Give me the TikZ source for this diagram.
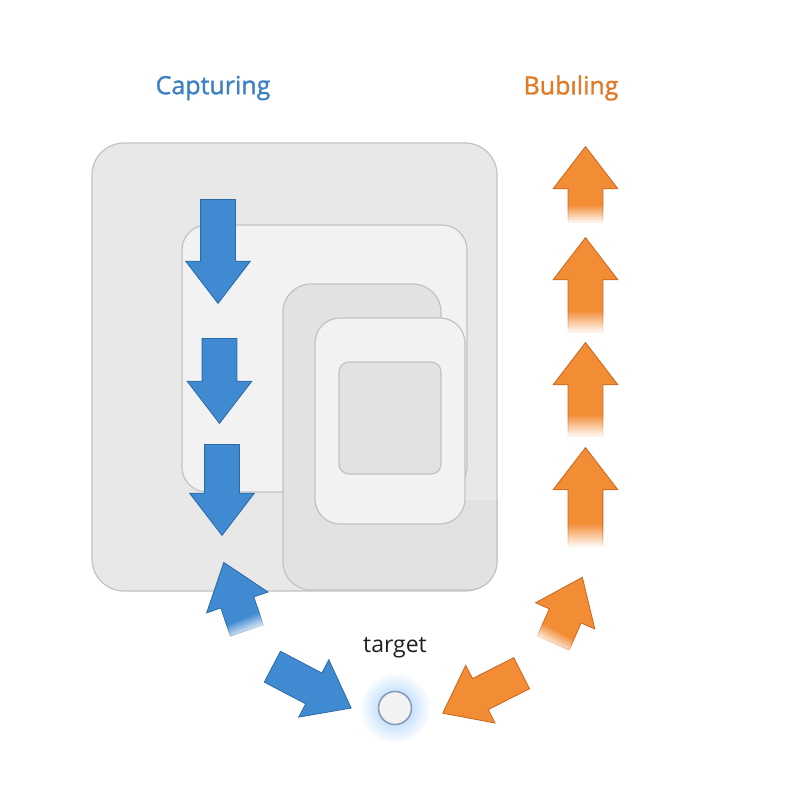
\documentclass[tikz,border=0pt]{standalone}
\usepackage{fontspec}
\setmainfont{Open Sans}
\newfontfamily\headfont[FakeBold=1.2]{Open Sans}
\usetikzlibrary{shapes.arrows,fadings}

\definecolor{capblue}{HTML}{3F8AD0}
\definecolor{capline}{HTML}{2D6AA8}
\definecolor{captext}{HTML}{3B7FC4}
\definecolor{bubor}{HTML}{F28C35}
\definecolor{bubline}{HTML}{C8651E}
\definecolor{bubtext}{HTML}{E07A26}
\definecolor{boxline}{HTML}{C2C2C2}
\definecolor{grayA}{HTML}{E8E8E8}
\definecolor{grayB}{HTML}{F2F2F2}
\definecolor{grayC}{HTML}{E2E2E2}
\definecolor{glow}{HTML}{9CCBFA}
\definecolor{ringline}{HTML}{8499B8}

\pgfdeclarehorizontalshading{tailmask}{100bp}{color(0bp)=(black); color(25bp)=(black); color(37bp)=(white); color(100bp)=(white)}
\pgfdeclarefading{tailfade}{\pgfuseshading{tailmask}}

\begin{document}
\begin{tikzpicture}
[x=1pt,y=-1pt,
box/.style={draw=boxline,line width=1.2pt,rounded corners=#1},
blk/.style={single arrow,inner xsep=0pt,inner ysep=17pt,minimum width=0pt,
  single arrow head extend=15pt,single arrow tip angle=75,line width=.8pt,anchor=tail},
capdown/.style={blk,fill=capblue,draw=capline},
bubup/.style={blk,fill=bubor,draw=bubline},
faded/.style={path fading=tailfade,fading angle=#1}]
\useasboundingbox (0,0) rectangle (800,800);

\node[box=32pt,fill=grayA,minimum width=405pt,minimum height=448pt] (window) at (294.5,367) {};
\node[box=25pt,fill=grayB,minimum width=285pt,minimum height=267pt] (document) at (324.5,358.5) {};
\fill[grayC,rounded corners=28pt] (283,590) -- (283,284) -- (441,284) -- (441,500) [sharp corners] -- (497,500) [rounded corners=28pt] -- (497,590) -- cycle;
\draw[boxline,line width=1.2pt,rounded corners=28pt] (497,500) -- (497,590) -- (283,590) -- (283,284) -- (441,284) -- (441,500);
\node[box=25pt,fill=grayB,minimum width=150pt,minimum height=206pt] (div) at (390,421) {};
\node[box=10pt,fill=grayC,minimum width=102pt,minimum height=112pt] (span) at (390,418) {};

\node[text=captext,font=\headfont\fontsize{25}{30}\selectfont] (capturing) at (213,88) {Capturing};
\node[text=bubtext,font=\headfont\fontsize{25}{30}\selectfont] (bubbling) at (571,88) {Bubıling};
\node[text=black!88,font=\fontsize{23}{27}\selectfont] (label) at (395,648) {target};

\node[circle,minimum size=72pt,inner color=glow,outer color=white] (halo) at (395,708) {};
\node[circle,minimum size=33pt,fill=grayB,draw=ringline,line width=1.5pt] (target) at (395,708) {};

% capturing phase
\foreach \x/\y/\len [count=\i] in {218/199/104,219.5/338/85,222/444/91}
\node[capdown,rotate=-90,minimum height=\len pt] (c\i) at (\x,\y) {};
\node[capdown,rotate=108.7,minimum height=72pt,faded=108.7] (c4) at (247,631) {};
\node[capdown,rotate=-27.7,minimum height=89pt] (c5) at (272,666.5) {};

% bubbling phase
\node[bubup,rotate=206.9,minimum height=88.5pt] (b1) at (522,673) {};
\node[bubup,rotate=66.1,minimum height=72pt,faded=66.1] (b2) at (553,643.5) {};
\foreach \y/\len [count=\i from 3] in {547/99,437/94,333/95,223/76}
\node[bubup,rotate=90,minimum height=\len pt,faded=90] (b\i) at (585.5,\y) {};
\end{tikzpicture}
\end{document}
